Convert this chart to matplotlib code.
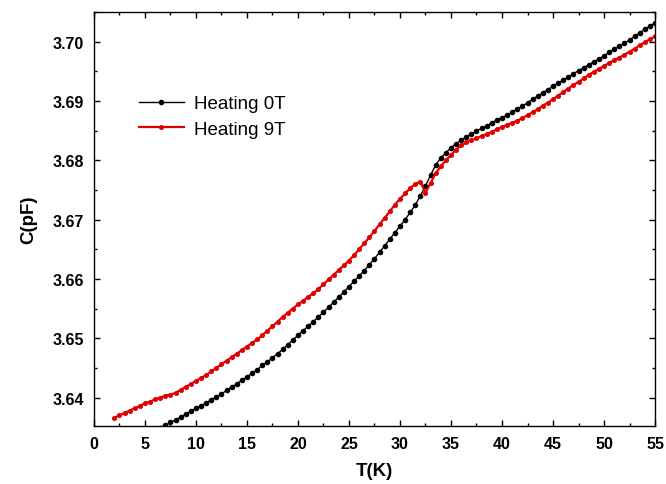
import matplotlib
matplotlib.use('Agg')
import matplotlib.pyplot as plt
from matplotlib.ticker import MultipleLocator

plt.rcParams['font.family'] = ['Liberation Sans', 'DejaVu Sans']

# heating run, zero field
T_0T = [6.5, 7.0, 7.5, 8.0, 8.5, 9.0, 9.5, 10.0, 10.5, 11.0, 11.5, 12.0, 12.5, 13.0,
        13.5, 14.0, 14.5, 15.0, 15.5, 16.0, 16.5, 17.0, 17.5, 18.0, 18.5, 19.0, 19.5,
        20.0, 20.5, 21.0, 21.5, 22.0, 22.5, 23.0, 23.5, 24.0, 24.5, 25.0, 25.5, 26.0,
        26.5, 27.0, 27.5, 28.0, 28.5, 29.0, 29.5, 30.0, 30.5, 31.0, 31.5, 32.0, 32.5,
        33.0, 33.5, 34.0, 34.5, 35.0, 35.5, 36.0, 36.5, 37.0, 37.5, 38.0, 38.5, 39.0,
        39.5, 40.0, 40.5, 41.0, 41.5, 42.0, 42.5, 43.0, 43.5, 44.0, 44.5, 45.0, 45.5,
        46.0, 46.5, 47.0, 47.5, 48.0, 48.5, 49.0, 49.5, 50.0, 50.5, 51.0, 51.5, 52.0,
        52.5, 53.0, 53.5, 54.0, 54.5, 55.0]
C_0T = [3.6349, 3.6353, 3.6358, 3.6362, 3.6367, 3.6372, 3.6377, 3.6382, 3.6386, 3.6391,
        3.6396, 3.6401, 3.6406, 3.6412, 3.6418, 3.6423, 3.6429, 3.6435, 3.6441, 3.6447,
        3.6454, 3.6460, 3.6467, 3.6474, 3.6481, 3.6489, 3.6497, 3.6505, 3.6513, 3.6520,
        3.6528, 3.6536, 3.6544, 3.6552, 3.6561, 3.6569, 3.6578, 3.6587, 3.6596, 3.6605,
        3.6614, 3.6624, 3.6634, 3.6645, 3.6656, 3.6667, 3.6678, 3.6689, 3.6700, 3.6712,
        3.6725, 3.6740, 3.6757, 3.6775, 3.6792, 3.6804, 3.6813, 3.6821, 3.6828, 3.6834,
        3.6839, 3.6844, 3.6849, 3.6854, 3.6858, 3.6863, 3.6868, 3.6872, 3.6876, 3.6881,
        3.6886, 3.6891, 3.6897, 3.6903, 3.6908, 3.6914, 3.6919, 3.6925, 3.6930, 3.6935,
        3.6940, 3.6946, 3.6951, 3.6956, 3.6961, 3.6966, 3.6971, 3.6976, 3.6982, 3.6987,
        3.6992, 3.6997, 3.7003, 3.7009, 3.7015, 3.7021, 3.7026, 3.7032]

# heating run, 9 T
T_9T = [2.0, 2.5, 3.0, 3.5, 4.0, 4.5, 5.0, 5.5, 6.0, 6.5, 7.0, 7.5, 8.0, 8.5, 9.0,
        9.5, 10.0, 10.5, 11.0, 11.5, 12.0, 12.5, 13.0, 13.5, 14.0, 14.5, 15.0, 15.5,
        16.0, 16.5, 17.0, 17.5, 18.0, 18.5, 19.0, 19.5, 20.0, 20.5, 21.0, 21.5, 22.0,
        22.5, 23.0, 23.5, 24.0, 24.5, 25.0, 25.5, 26.0, 26.5, 27.0, 27.5, 28.0, 28.5,
        29.0, 29.5, 30.0, 30.5, 31.0, 31.5, 32.0, 32.5, 33.0, 33.5, 34.0, 34.5, 35.0,
        35.5, 36.0, 36.5, 37.0, 37.5, 38.0, 38.5, 39.0, 39.5, 40.0, 40.5, 41.0, 41.5,
        42.0, 42.5, 43.0, 43.5, 44.0, 44.5, 45.0, 45.5, 46.0, 46.5, 47.0, 47.5, 48.0,
        48.5, 49.0, 49.5, 50.0, 50.5, 51.0, 51.5, 52.0, 52.5, 53.0, 53.5, 54.0, 54.5, 55.0]
C_9T = [3.6366, 3.6370, 3.6374, 3.6378, 3.6382, 3.6386, 3.6390, 3.6393, 3.6397, 3.6400,
        3.6403, 3.6405, 3.6408, 3.6413, 3.6418, 3.6423, 3.6428, 3.6433, 3.6438, 3.6444,
        3.6450, 3.6456, 3.6462, 3.6468, 3.6474, 3.6480, 3.6486, 3.6492, 3.6498, 3.6505,
        3.6513, 3.6520, 3.6528, 3.6536, 3.6543, 3.6550, 3.6557, 3.6563, 3.6570, 3.6576,
        3.6583, 3.6591, 3.6599, 3.6607, 3.6615, 3.6623, 3.6631, 3.6640, 3.6650, 3.6660,
        3.6670, 3.6681, 3.6692, 3.6703, 3.6714, 3.6725, 3.6735, 3.6744, 3.6753, 3.6760,
        3.6764, 3.6745, 3.6762, 3.6778, 3.6790, 3.6800, 3.6809, 3.6818, 3.6825, 3.6830,
        3.6834, 3.6837, 3.6841, 3.6844, 3.6848, 3.6852, 3.6856, 3.6860, 3.6863, 3.6867,
        3.6871, 3.6876, 3.6881, 3.6886, 3.6892, 3.6897, 3.6903, 3.6909, 3.6915, 3.6921,
        3.6927, 3.6932, 3.6938, 3.6944, 3.6949, 3.6954, 3.6959, 3.6964, 3.6969, 3.6973,
        3.6978, 3.6983, 3.6988, 3.6994, 3.6999, 3.7004, 3.7009]

fig = plt.figure(figsize=(6.66, 4.85), dpi=100)
ax = fig.add_axes([0.1411, 0.1196, 0.8424, 0.8536])

ax.plot(T_0T, C_0T, color='black', lw=1.0, marker='o', ms=3.0, label='Heating 0T')
ax.plot(T_9T, C_9T, color='#e00000', lw=1.6, marker='o', ms=2.6, label='Heating 9T')

ax.set_xlim(0, 55)
ax.set_ylim(3.6352, 3.705)
ax.xaxis.set_major_locator(MultipleLocator(5))
ax.xaxis.set_minor_locator(MultipleLocator(2.5))
ax.yaxis.set_major_locator(MultipleLocator(0.01))
ax.yaxis.set_minor_locator(MultipleLocator(0.005))
ax.yaxis.set_major_formatter(matplotlib.ticker.FormatStrFormatter('%.2f'))

ax.tick_params(which='both', direction='in', top=True, right=True, width=1.0)
ax.tick_params(which='major', length=4.5, labelsize=11.5, pad=7)
ax.tick_params(which='minor', length=2.5)
for lab in ax.get_xticklabels() + ax.get_yticklabels():
    lab.set_fontweight('bold')
for s in ax.spines.values():
    s.set_linewidth(1.0)

ax.set_xlabel('T(K)', fontsize=13.5, fontweight='bold', labelpad=8)
ax.set_ylabel('C(pF)', fontsize=13.5, fontweight='bold', labelpad=11)

ax.legend(loc='upper left', bbox_to_anchor=(0.05, 0.84), frameon=False,
          fontsize=13.5, handlelength=2.4, handletextpad=0.55, labelspacing=0.45,
          markerscale=1.0)

plt.savefig('out.png', dpi=100)
